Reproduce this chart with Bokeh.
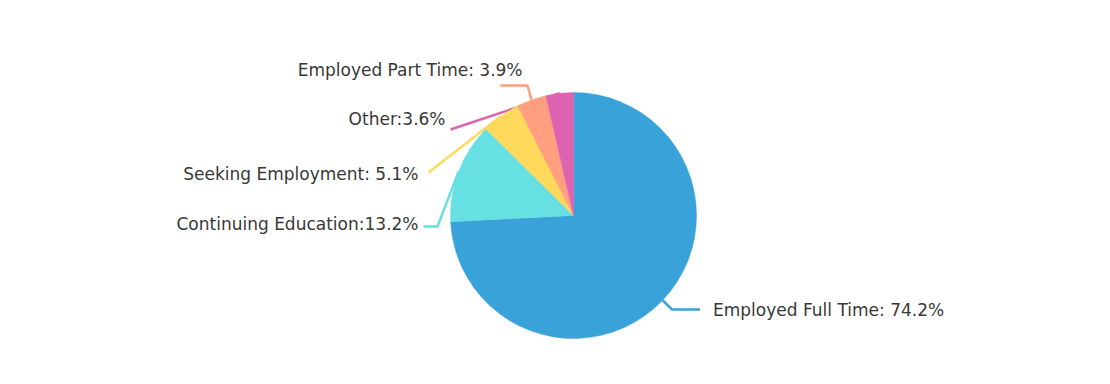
import math
from bokeh.plotting import figure
from bokeh.models import Range1d, ColumnDataSource
from bokeh.core.properties import value
from bokeh.embed import file_html
from bokeh.resources import INLINE

# ---- data ----
categories = ["Employed Full Time", "Continuing Education", "Seeking Employment",
              "Employed Part Time", "Other"]
values = [74.2, 13.2, 5.1, 3.9, 3.6]
separators = [": ", ":", ": ", ": ", ":"]
colors = ["#38A2D9", "#66E0E3", "#FED95C", "#FF9F7F", "#DD62B0"]

# ---- layout (pixels, y up) ----
W, H = 1094, 368
CX, CY, R = 573, 153, 123
# leader line kink offsets from centre, horizontal segment length, text gap, text dy
kinks = [(98.5, -94), (-136, -11), (-145, 43), (-46, 130), (-123, 86)]
horiz = [28, -14, 0, -27, 0]
text_gap = [13, -5, -10, 22, -5]
text_dy = [0, 3, -1, 16, 11]

p = figure(width=W, height=H, x_range=Range1d(0, W), y_range=Range1d(0, H),
           output_backend="svg", toolbar_location=None, min_border=0)
p.axis.visible = False
p.grid.visible = False
p.outline_line_color = None
p.background_fill_color = "white"
p.border_fill_color = "white"

total = sum(values)
starts, ends, mids = [], [], []
cum = 0.0
for v in values:
    a0 = math.pi / 2 - 2 * math.pi * cum / total
    cum += v
    a1 = math.pi / 2 - 2 * math.pi * cum / total
    starts.append(a0)
    ends.append(a1)
    mids.append((a0 + a1) / 2)

# leader lines (under the pie)
for i, m in enumerate(mids):
    ex, ey = CX + R * math.cos(m), CY + R * math.sin(m)
    kx, ky = CX + kinks[i][0], CY + kinks[i][1]
    p.line([ex, kx, kx + horiz[i]], [ey, ky, ky], line_color=colors[i], line_width=2.5)

src = ColumnDataSource(dict(start=starts, end=ends, color=colors))
p.wedge(x=CX, y=CY, radius=R, start_angle="start", end_angle="end",
        direction="clock", fill_color="color", line_color="color", line_width=0.5,
        source=src)

for i, m in enumerate(mids):
    kx, ky = CX + kinks[i][0], CY + kinks[i][1]
    tx = kx + horiz[i] + text_gap[i]
    align = "left" if kinks[i][0] > 0 else "right"
    label = f"{categories[i]}{separators[i]}{values[i]}%"
    p.text(x=[tx], y=[ky + text_dy[i]], text=[label], text_align=align,
           text_baseline="middle", text_font=value("DejaVu Sans"),
           text_font_size="17px", text_color="#383838")

open("out.html", "w").write(file_html(p, INLINE))
